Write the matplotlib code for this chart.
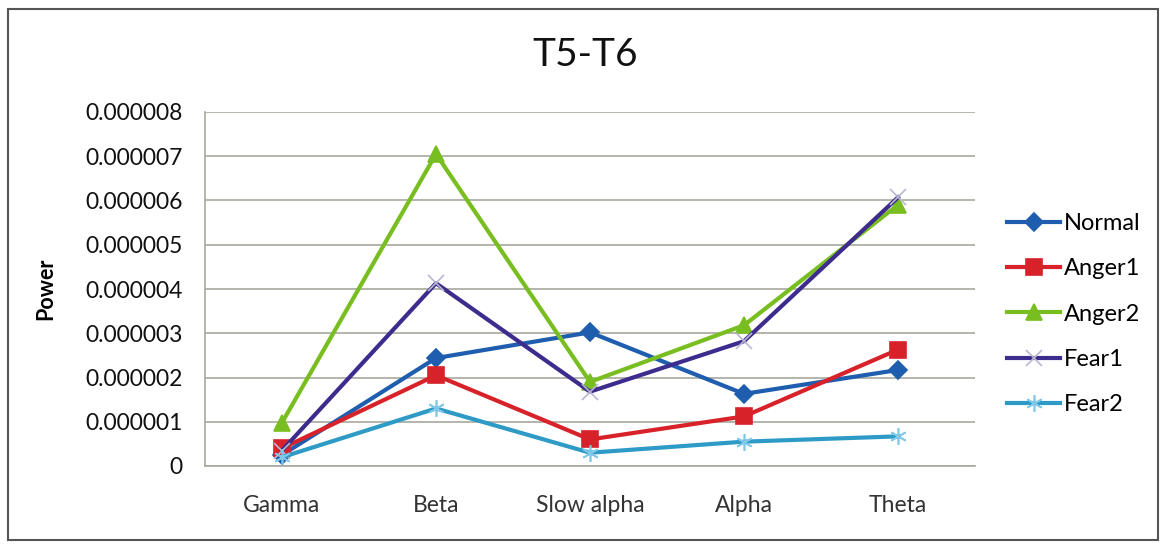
import matplotlib
matplotlib.use("Agg")
import matplotlib.pyplot as plt
from matplotlib.patches import Rectangle

categories = ["Gamma", "Beta", "Slow alpha", "Alpha", "Theta"]
normal = [0.25e-6, 2.44e-6, 3.02e-6, 1.63e-6, 2.17e-6]
anger1 = [0.40e-6, 2.05e-6, 0.60e-6, 1.12e-6, 2.63e-6]
anger2 = [0.98e-6, 7.05e-6, 1.90e-6, 3.18e-6, 5.90e-6]
fear1 = [0.35e-6, 4.13e-6, 1.68e-6, 2.82e-6, 6.07e-6]
fear2 = [0.20e-6, 1.30e-6, 0.30e-6, 0.55e-6, 0.67e-6]
yticks = [0, 1e-6, 2e-6, 3e-6, 4e-6, 5e-6, 6e-6, 7e-6, 8e-6]
ytick_labels = ["0", "0.000001", "0.000002", "0.000003", "0.000004",
                "0.000005", "0.000006", "0.000007", "0.000008"]

fig = plt.figure(figsize=(11.65, 5.44), dpi=100)
fig.patch.set_facecolor("white")
fig.patches.append(Rectangle((8/1165, 4/544), 1150/1165, 531/544, transform=fig.transFigure,
                             fill=False, edgecolor="#555555", linewidth=1.5))

ax = fig.add_axes([205/1165, 78/544, 770/1165, 354/544])
x = list(range(len(categories)))

series = [
    ("Normal", normal, "#1F5DAE", "D", 9, {}),
    ("Anger1", anger1, "#D8222A", "s", 11, {}),
    ("Anger2", anger2, "#78BE20", "^", 11, {}),
    ("Fear1", fear1, "#3D2B8E", "x", 11, {"markeredgecolor": "#B8B8D0"}),
    ("Fear2", fear2, "#2E9BC6", (6, 2, 0), 12, {"markeredgecolor": "#7FC8E8"}),
]
for name, vals, col, mk, ms, extra in series:
    ax.plot(x, vals, color=col, linewidth=3, marker=mk, markersize=ms,
            markeredgewidth=1.2, label=name, **extra)

ax.set_xlim(-0.5, 4.5)
ax.set_ylim(0, 8e-6)
ax.set_yticks(yticks)
ax.set_yticklabels(ytick_labels, fontfamily="Lato", fontsize=16.5, color="#111111")
ax.set_xticks(x)
ax.set_xticklabels(categories, fontfamily="Lato", fontsize=16.5, color="#333333")
ax.tick_params(axis="x", length=0, pad=21)
ax.tick_params(axis="y", length=0, pad=16)
ax.grid(axis="y", color="#A8A8A0", linewidth=1.2)
ax.set_axisbelow(True)
for s in ["top", "right"]:
    ax.spines[s].set_visible(False)
ax.spines["left"].set_color("#A8A8A0")
ax.spines["bottom"].set_color("#A8A8A0")
ax.spines["left"].set_linewidth(1.2)
ax.spines["bottom"].set_linewidth(1.2)

ax.set_ylabel("Power", fontfamily="Lato", fontsize=15.5, fontweight="bold", labelpad=0)
ax.yaxis.set_label_coords(-149/770, 0.5)

fig.text(585/1165, 1 - 55/544, "T5-T6", ha="center", va="center",
         fontfamily="Lato", fontsize=28, color="#111111")

leg = ax.legend(loc="upper left", bbox_to_anchor=(1007/1165, 1 - 213/544),
                bbox_transform=fig.transFigure, frameon=False,
                prop={"family": "Lato", "size": 17}, labelspacing=1.03,
                handlelength=2.25, handletextpad=0.15, borderaxespad=0, borderpad=0)

fig.savefig("out.png", dpi=100, facecolor="white")
